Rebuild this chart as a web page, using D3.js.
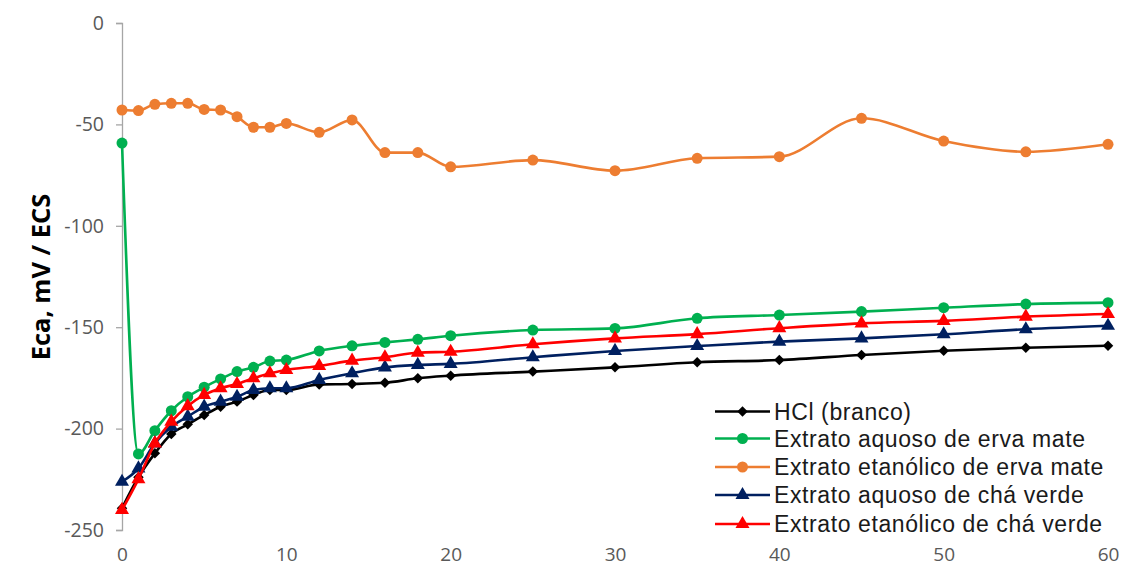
<!DOCTYPE html>
<html><head><meta charset="utf-8">
<script src="https://cdn.jsdelivr.net/npm/d3@7"></script>
<style>body{margin:0;background:#fff}svg{display:block}</style>
</head><body>
<svg id="c" width="1126" height="571"></svg>
<script>
const times = [0,1,2,3,4,5,6,7,8,9,10,12,14,16,18,20,25,30,35,40,45,50,55,60];
const hcl = [-239.3,-224,-212.2,-202.7,-197.9,-193.3,-189.2,-186.7,-183.4,-181.0,-181.0,-178.2,-178.0,-177.4,-175.2,-173.9,-171.9,-169.8,-167.3,-166.2,-163.7,-161.6,-160.1,-159.1];
const aquosoErva = [-59.2,-212.5,-201.0,-191.2,-184.3,-179.6,-175.5,-171.9,-169.8,-166.7,-166.2,-161.7,-159.2,-157.5,-156.0,-154.2,-151.4,-150.6,-145.6,-144.0,-142.3,-140.4,-138.6,-137.9];
const etanolicoErva = [-42.9,-43.2,-40.1,-39.6,-39.6,-42.6,-42.9,-46.2,-51.4,-51.4,-49.5,-53.9,-47.8,-63.9,-63.9,-70.9,-67.6,-72.8,-66.7,-65.9,-47.0,-58.2,-63.5,-59.8];
const aquosoCha = [-226.2,-219.6,-207.3,-199.1,-194.1,-189.2,-186.7,-184.3,-181.0,-180.1,-180.1,-176.0,-172.7,-169.8,-168.6,-168.1,-164.8,-161.7,-159.3,-157.1,-155.5,-153.5,-151.0,-149.3];
const etanolicoCha = [-240.1,-224.9,-207.3,-196.6,-188.9,-183.4,-180.1,-178.0,-175.2,-172.7,-171.1,-169.1,-166.5,-164.8,-162.6,-162.1,-158.4,-155.5,-153.4,-150.5,-148.1,-146.9,-144.8,-143.5];
const seriesNames = ["HCl (branco)","Extrato aquoso de erva mate","Extrato etanólico de erva mate","Extrato aquoso de chá verde","Extrato etanólico de chá verde"];
const xTicks = [0,10,20,30,40,50,60];
const yTicks = [0,-50,-100,-150,-200,-250];
const yTitle = "Eca, mV / ECS";

const series = [
  {name: seriesNames[0], values: hcl, color: "#000000", symbol: d3.symbolDiamond2, size: 70},
  {name: seriesNames[1], values: aquosoErva, color: "#00B050", symbol: d3.symbolCircle, size: 95},
  {name: seriesNames[2], values: etanolicoErva, color: "#ED7D31", symbol: d3.symbolCircle, size: 95},
  {name: seriesNames[3], values: aquosoCha, color: "#002060", symbol: d3.symbolTriangle, size: 85},
  {name: seriesNames[4], values: etanolicoCha, color: "#FF0000", symbol: d3.symbolTriangle, size: 85}
];

const svg = d3.select("#c");
const x = d3.scaleLinear().domain([0,60]).range([122,1108]);
const y = d3.scaleLinear().domain([-250,0]).range([530,23]);
const fmt = d => String(d);

// y axis
const yAxis = svg.append("g").attr("transform","translate(122,0)")
  .call(d3.axisLeft(y).tickValues(yTicks).tickFormat(fmt).tickSize(6).tickPadding(12));
yAxis.select(".domain").attr("stroke","#a6a6a6").attr("stroke-width",1.3);
yAxis.selectAll(".tick line").attr("stroke","#a6a6a6").attr("stroke-width",1.3);
yAxis.selectAll("text").attr("fill","#595959").style("font-family","'Open Sans', sans-serif").style("font-size","19.5px");

// x axis (labels only)
const xAxis = svg.append("g").attr("transform","translate(0,530)")
  .call(d3.axisBottom(x).tickValues(xTicks).tickFormat(fmt).tickSize(0).tickPadding(18));
xAxis.select(".domain").remove();
xAxis.selectAll("text").attr("fill","#595959").style("font-family","'Open Sans', sans-serif").style("font-size","19px");

// axis title
svg.append("text").attr("transform","translate(50,277) rotate(-90)")
  .attr("text-anchor","middle").attr("fill","#000")
  .style("font-family","'Open Sans', sans-serif").style("font-weight","bold").style("font-size","25.5px")
  .text(yTitle);

const line = d3.line().x((d,i)=>x(times[i])).y(d=>y(d)).curve(d3.curveMonotoneX);

series.forEach(s => {
  const g = svg.append("g");
  g.append("path").attr("d", line(s.values)).attr("fill","none")
    .attr("stroke", s.color).attr("stroke-width", 2.6);
  g.selectAll("path.m").data(s.values).join("path").attr("class","m")
    .attr("transform",(d,i)=>`translate(${x(times[i])},${y(d)})`)
    .attr("d", d3.symbol().type(s.symbol).size(s.size)).attr("fill", s.color);
});

// legend
const legY = [411.5,438.5,467,495,524];
series.forEach((s,i) => {
  const g = svg.append("g").attr("transform",`translate(715,${legY[i]})`);
  g.append("line").attr("x1",0).attr("x2",55).attr("stroke",s.color).attr("stroke-width",2.6);
  g.append("path").attr("transform","translate(27.5,0)")
    .attr("d", d3.symbol().type(s.symbol).size(s.size)).attr("fill", s.color);
  g.append("text").attr("x",59).attr("dy","0.35em").attr("fill","#1a1a1a")
    .style("font-family","'Liberation Sans', Arial, sans-serif").style("font-size","23px")
    .style("letter-spacing","0.6px").text(s.name);
});
</script>
</body></html>
